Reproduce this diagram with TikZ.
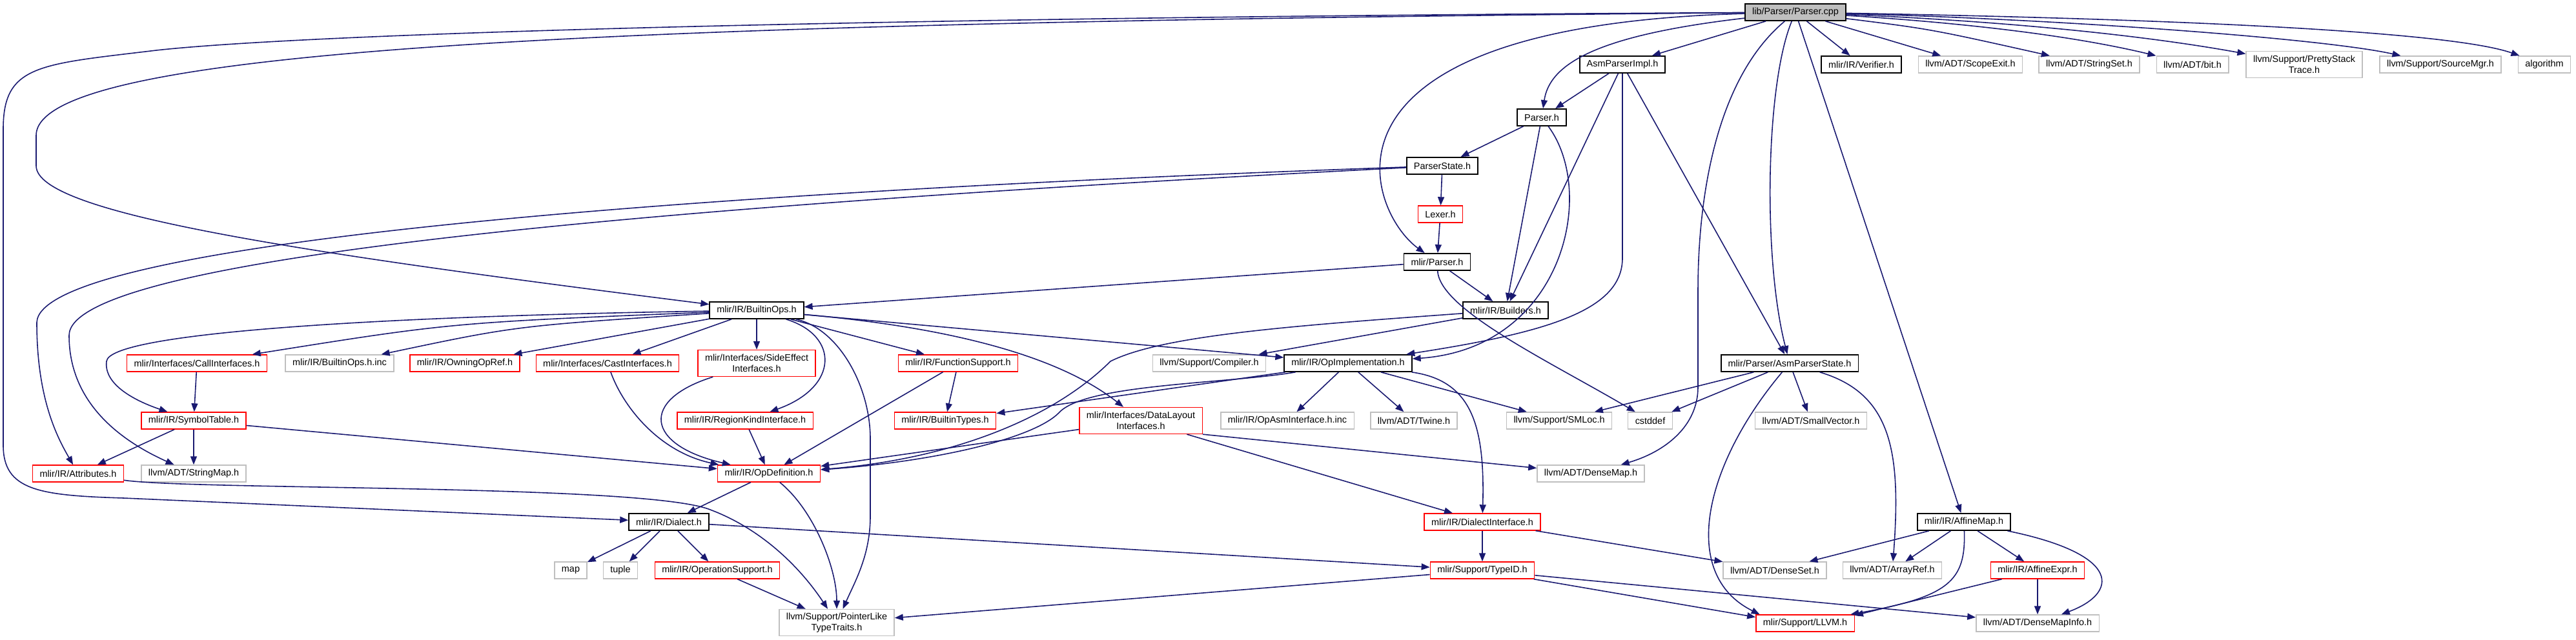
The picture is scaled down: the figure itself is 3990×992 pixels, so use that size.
\documentclass[tikz,border=0pt]{standalone}
\usepackage{fontspec}
\setmainfont{Liberation Sans}
\usetikzlibrary{arrows.meta}
\definecolor{edgecol}{HTML}{191970}
\definecolor{grey75}{HTML}{BFBFBF}

\begin{document}
\begin{tikzpicture}[x=0.01cm,y=-0.01cm,
  box/.style={draw,rectangle,font=\fontsize{4.1}{4.8}\selectfont,inner xsep=0.11cm,inner ysep=0.05cm,minimum height=0.26cm,line width=0.38pt,align=center},
  incl/.style={box,draw=black,line width=0.5pt},
  sys/.style={box,draw=grey75},
  part/.style={box,draw=red},
  tall/.style={minimum height=0.41cm},
  dep/.style={-{Triangle[length=0.13cm,width=0.1cm]},color=edgecol,line width=0.45pt}]
\useasboundingbox (0,0) rectangle (3990,992);
\node[incl,fill=grey75] (cpp) at (2781,19) {lib/Parser/Parser.cpp};
\node[incl] (asmimpl) at (2513,100) {AsmParserImpl.h};
\node[incl] (verifier) at (2883,100) {mlir/IR/Verifier.h};
\node[sys] (scopeexit) at (3052,100) {llvm/ADT/ScopeExit.h};
\node[sys] (stringset) at (3236,100) {llvm/ADT/StringSet.h};
\node[sys] (bit) at (3396,100) {llvm/ADT/bit.h};
\node[sys,tall] (pretty) at (3569,100) {llvm/Support/PrettyStack\\Trace.h};
\node[sys] (srcmgr) at (3780,100) {llvm/Support/SourceMgr.h};
\node[sys] (algorithm) at (3941,100) {algorithm};
\node[incl] (parserh) at (2388,182) {Parser.h};
\node[incl] (pstate) at (2234,257) {ParserState.h};
\node[part] (lexer) at (2231,332) {Lexer.h};
\node[incl] (mparser) at (2226,406) {mlir/Parser.h};
\node[incl] (builtinops) at (1172,481) {mlir/IR/BuiltinOps.h};
\node[incl] (builders) at (2332,481) {mlir/IR/Builders.h};
\node[part] (callif) at (305,563) {mlir/Interfaces/CallInterfaces.h};
\node[sys] (opsinc) at (526,563) {mlir/IR/BuiltinOps.h.inc};
\node[part] (owning) at (720,563) {mlir/IR/OwningOpRef.h};
\node[part] (castif) at (941,563) {mlir/Interfaces/CastInterfaces.h};
\node[part,tall] (sideeff) at (1172,563) {mlir/Interfaces/SideEffect\\Interfaces.h};
\node[part] (funcsup) at (1484,563) {mlir/IR/FunctionSupport.h};
\node[sys] (compiler) at (1873,563) {llvm/Support/Compiler.h};
\node[incl] (opimpl) at (2088,563) {mlir/IR/OpImplementation.h};
\node[incl] (asmstate) at (2772,563) {mlir/Parser/AsmParserState.h};
\node[part] (symtab) at (300,652) {mlir/IR/SymbolTable.h};
\node[part] (regionkind) at (1154,652) {mlir/IR/RegionKindInterface.h};
\node[part] (btypes) at (1464,652) {mlir/IR/BuiltinTypes.h};
\node[part,tall] (datalayout) at (1767,652) {mlir/Interfaces/DataLayout\\Interfaces.h};
\node[sys] (opasminc) at (1994,652) {mlir/IR/OpAsmInterface.h.inc};
\node[sys] (twine) at (2190,652) {llvm/ADT/Twine.h};
\node[sys] (smloc) at (2415,652) {llvm/Support/SMLoc.h};
\node[sys] (cstddef) at (2556,652) {cstddef};
\node[sys] (smallvec) at (2805,652) {llvm/ADT/SmallVector.h};
\node[part] (attrs) at (121,734) {mlir/IR/Attributes.h};
\node[sys] (strmap) at (300,734) {llvm/ADT/StringMap.h};
\node[part] (opdef) at (1191,734) {mlir/IR/OpDefinition.h};
\node[sys] (densemap) at (2464,734) {llvm/ADT/DenseMap.h};
\node[incl] (dialect) at (1036,809) {mlir/IR/Dialect.h};
\node[part] (dialectif) at (2296,809) {mlir/IR/DialectInterface.h};
\node[incl] (affinemap) at (3042,809) {mlir/IR/AffineMap.h};
\node[sys] (map) at (884,884) {map};
\node[sys] (tuple) at (961,884) {tuple};
\node[part] (opsupport) at (1111,884) {mlir/IR/OperationSupport.h};
\node[part] (typeid) at (2296,884) {mlir/Support/TypeID.h};
\node[sys] (denseset) at (2749,884) {llvm/ADT/DenseSet.h};
\node[sys] (arrayref) at (2931,884) {llvm/ADT/ArrayRef.h};
\node[part] (affineexpr) at (3156,884) {mlir/IR/AffineExpr.h};
\node[sys,tall] (pointerlike) at (1296,965) {llvm/Support/PointerLike\\TypeTraits.h};
\node[part] (llvmh) at (2796,966) {mlir/Support/LLVM.h};
\node[sys] (densemapinfo) at (3156,966) {llvm/ADT/DenseMapInfo.h};
\draw[dep] (cpp) -- (asmimpl);
\draw[dep] (cpp) -- (verifier);
\draw[dep] (cpp) -- (scopeexit);
\draw[dep] (cpp) .. controls (2990,45) .. (stringset);
\draw[dep] (cpp) .. controls (3080,38) and (3230,60) .. (bit);
\draw[dep] (cpp) .. controls (3150,35) and (3350,60) .. (pretty);
\draw[dep] (cpp) .. controls (3200,30) and (3600,60) .. (srcmgr);
\draw[dep] (cpp) .. controls (3400,30) and (3800,50) .. (algorithm);
\draw[dep] (cpp) .. controls (2470,55) and (2400,100) .. (parserh);
\draw[dep] (cpp) .. controls (2000,40) and (2120,330) .. (mparser);
\draw[dep] (cpp) .. controls (1000,35) and (56,70) .. (56,210) -- (56,257) .. controls (56,330) and (450,390) .. (builtinops);
\draw[dep] (cpp) .. controls (1200,28) and (450,55) .. (242,78) .. controls (60,100) and (5,100) .. (5,200) -- (5,690) .. controls (5,760) and (60,768) .. (191,772) -- (dialect);
\draw[dep] (cpp) .. controls (2660,120) and (2630,300) .. (2630,450) -- (2630,600) .. controls (2630,660) and (2580,700) .. (densemap);
\draw[dep] (cpp) .. controls (2735,130) and (2730,400) .. (asmstate);
\draw[dep] (cpp) -- (affinemap);
\draw[dep] (asmimpl) -- (parserh);
\draw[dep] (asmimpl) -- (builders);
\draw[dep] (asmimpl) -- (2513,400) .. controls (2513,480) and (2400,515) .. (opimpl);
\draw[dep] (asmimpl) -- (asmstate);
\draw[dep] (parserh) -- (pstate);
\draw[dep] (parserh) -- (builders);
\draw[dep] (parserh) .. controls (2475,300) and (2420,540) .. (opimpl);
\draw[dep] (pstate) -- (lexer);
\draw[dep] (pstate) .. controls (1000,300) and (60,380) .. (57,500) .. controls (57,620) and (90,680) .. (attrs);
\draw[dep] (pstate) .. controls (1000,320) and (107,400) .. (107,520) .. controls (107,620) and (180,680) .. (strmap);
\draw[dep] (lexer) -- (mparser);
\draw[dep] (mparser) -- (builtinops);
\draw[dep] (mparser) -- (builders);
\draw[dep] (mparser) .. controls (2230,480) and (2400,560) .. (cstddef);
\draw[dep] (builtinops) .. controls (600,490) and (170,515) .. (165,560) .. controls (160,600) and (220,625) .. (symtab);
\draw[dep] (builtinops) .. controls (700,500) .. (callif);
\draw[dep] (builtinops) .. controls (800,505) .. (opsinc);
\draw[dep] (builtinops) -- (owning);
\draw[dep] (builtinops) -- (castif);
\draw[dep] (builtinops) -- (sideeff);
\draw[dep] (builtinops) .. controls (1300,520) and (1300,600) .. (regionkind);
\draw[dep] (builtinops) .. controls (1300,510) and (1348,600) .. (1348,680) -- (1348,800) .. controls (1348,860) and (1325,900) .. (pointerlike);
\draw[dep] (builtinops) -- (funcsup);
\draw[dep] (builtinops) .. controls (1500,510) and (1650,560) .. (datalayout);
\draw[dep] (builtinops) -- (opimpl);
\draw[dep] (builders) .. controls (2000,505) and (1800,520) .. (1720,560) .. controls (1630,650) and (1470,712) .. (opdef);
\draw[dep] (builders) -- (compiler);
\draw[dep] (opimpl) .. controls (1900,595) and (1680,595) .. (1640,640) .. controls (1600,680) and (1450,715) .. (opdef);
\draw[dep] (opimpl) -- (btypes);
\draw[dep] (opimpl) -- (opasminc);
\draw[dep] (opimpl) -- (twine);
\draw[dep] (opimpl) -- (smloc);
\draw[dep] (opimpl) .. controls (2280,590) and (2300,660) .. (dialectif);
\draw[dep] (asmstate) -- (smloc);
\draw[dep] (asmstate) -- (cstddef);
\draw[dep] (asmstate) -- (smallvec);
\draw[dep] (asmstate) .. controls (2640,720) and (2600,890) .. (llvmh.169);
\draw[dep] (asmstate) .. controls (2930,610) and (2945,700) .. (arrayref);
\draw[dep] (callif) -- (symtab);
\draw[dep] (castif) .. controls (965,630) and (1020,700) .. (opdef.170);
\draw[dep] (sideeff) .. controls (990,620) and (1000,690) .. (opdef.167);
\draw[dep] (regionkind) -- (opdef);
\draw[dep] (funcsup) -- (opdef);
\draw[dep] (funcsup) -- (btypes);
\draw[dep] (datalayout) -- (opdef);
\draw[dep] (datalayout.south east) -- (densemap);
\draw[dep] (datalayout) -- (dialectif);
\draw[dep] (symtab) -- (attrs);
\draw[dep] (symtab) -- (strmap);
\draw[dep] (symtab) -- (opdef);
\draw[dep] (attrs) .. controls (300,760) and (1000,750) .. (1100,790) .. controls (1180,820) and (1240,880) .. (pointerlike);
\draw[dep] (opdef) -- (dialect);
\draw[dep] (opdef) .. controls (1260,790) and (1296,880) .. (pointerlike);
\draw[dep] (dialect) -- (map);
\draw[dep] (dialect) -- (tuple);
\draw[dep] (dialect) -- (opsupport);
\draw[dep] (dialect) -- (typeid);
\draw[dep] (opsupport) -- (pointerlike);
\draw[dep] (dialectif) -- (typeid);
\draw[dep] (dialectif) -- (denseset);
\draw[dep] (typeid) -- (pointerlike);
\draw[dep] (typeid) -- (llvmh.173);
\draw[dep] (typeid) -- (densemapinfo);
\draw[dep] (affinemap) -- (denseset);
\draw[dep] (affinemap) -- (arrayref);
\draw[dep] (affinemap) .. controls (3045,900) and (3020,925) .. (llvmh.11);
\draw[dep] (affinemap) -- (affineexpr);
\draw[dep] (affinemap) .. controls (3290,860) and (3280,920) .. (densemapinfo);
\draw[dep] (affineexpr) -- (llvmh.9);
\draw[dep] (affineexpr) -- (densemapinfo);
\end{tikzpicture}
\end{document}
